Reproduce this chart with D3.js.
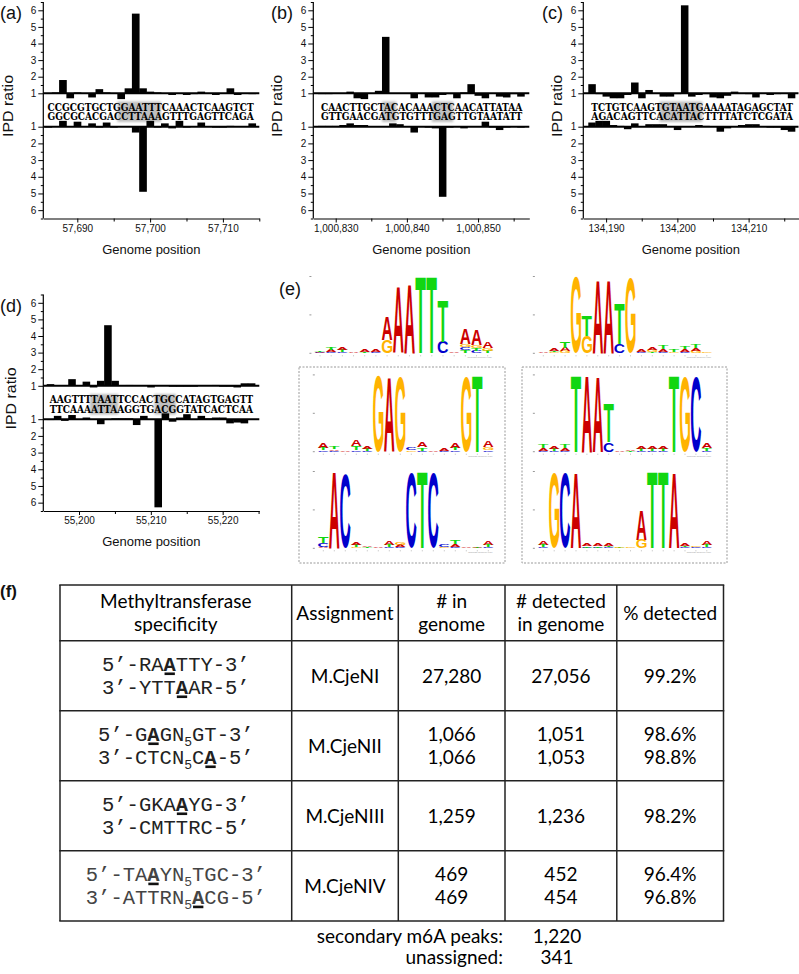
<!DOCTYPE html>
<html><head><meta charset="utf-8">
<script src="https://cdn.jsdelivr.net/npm/d3@7"></script>
<style>body{margin:0;background:#fff}svg{display:block}</style>
</head><body>
<svg id="chart" width="799" height="974"></svg>
<script>
// ---------------- DATA ----------------
const panelLetters = ["(a)","(b)","(c)","(d)","(e)","(f)"];
const yAxisTitle = "IPD ratio";
const xAxisTitle = "Genome position";

const aStart = 57686;
const aTicks = [57690, 57700, 57710];
const aTopSeq = "CCGCGTGCTGGAATTTCAAACTCAAGTCT";
const aBotSeq = "GGCGCACGACCTTAAAGTTTGAGTTCAGA";
const aTopIPD = [1.0,1.05,1.8,0.7,1.05,1.0,0.75,1.25,1.05,1.02,0.65,1.3,5.8,1.3,1.1,1.05,1.0,0.9,1.0,0.9,0.95,1.1,1.0,0.9,1.0,1.3,0.9,1.0,0.95];
const aBotIPD = [1.05,1.0,0.65,1.0,0.7,1.0,0.8,1.05,0.75,1.05,1.0,1.0,1.35,4.9,0.65,1.05,0.8,1.1,0.65,1.05,1.0,0.75,1.0,1.05,1.05,0.95,1.0,1.0,0.8];
const aMotif = [[10,15]];

const bStart = 1000828;
const bTicks = [1000830, 1000840, 1000850];
const bTopSeq = "CAACTTGCTACACAAACTCAACATTATAA";
const bBotSeq = "GTTGAACGATGTGTTTGAGTTGTAATATT";
const bTopIPD = [0.95,0.95,0.97,0.98,1.1,0.7,0.65,1.0,1.15,4.4,1.0,1.0,1.0,0.7,1.0,0.75,0.75,0.9,0.95,0.7,1.05,1.55,0.85,0.7,1.0,0.8,0.75,0.95,0.8];
const bBotIPD = [0.95,0.95,0.95,0.9,0.8,0.9,0.9,1.0,1.0,1.0,0.8,0.85,1.0,1.35,1.0,1.05,1.1,5.2,1.05,1.0,1.1,1.0,1.0,0.7,1.05,1.2,1.05,1.0,1.05];
const bMotif = [[9,10],[16,18]];

const cStart = 134188;
const cTicks = [134190, 134200, 134210];
const cTopSeq = "TCTGTCAAGTGTAATGAAAATAGAGCTAT";
const cBotSeq = "AGACAGTTCACATTACTTTTATCTCGATA";
const cTopIPD = [1.55,0.95,0.8,0.7,0.7,0.9,1.65,0.7,1.2,1.0,0.8,0.8,0.95,6.3,0.8,0.9,0.95,0.75,0.7,0.85,1.1,1.0,0.95,0.75,1.0,0.9,0.95,1.0,0.7];
const cBotIPD = [0.75,0.65,0.65,0.9,0.95,1.15,0.8,1.0,0.85,0.85,0.85,1.0,1.2,1.0,1.0,0.9,0.95,1.0,1.3,1.1,1.0,0.9,0.85,0.85,1.0,1.05,1.05,1.2,1.3];
const cMotif = [[10,15]];

const dStart = 55196;
const dTicks = [55200, 55210, 55220];
const dTopSeq = "AAGTTTTAATTCCACTGCCATAGTGAGTT";
const dBotSeq = "TTCAAAATTAAGGTGACGGTATCACTCAA";
const dTopIPD = [1.1,1.0,1.0,1.4,1.0,1.25,0.9,1.3,4.65,1.3,1.0,1.05,1.0,1.0,0.9,1.0,1.0,0.95,0.95,0.95,0.95,1.0,1.0,1.05,0.95,0.95,0.9,1.15,1.15];
const dBotIPD = [1.05,0.8,1.1,0.75,1.0,0.9,1.0,1.3,1.05,0.95,0.95,0.95,1.35,0.8,1.0,6.28,0.65,1.15,0.9,0.7,1.05,0.8,0.95,0.9,0.9,1.25,1.2,1.25,1.0];
const dMotif = [[6,9],[15,17]];

// sequence logos: columns of [base, bits] stacked bottom to top
const logoRAATTY = [
 [["C",0.02],["A",0.02],["T",0.03]], [["C",0.04],["A",0.05],["T",0.08]], [["C",0.03],["T",0.05],["A",0.06]], [["A",0.02]],
 [["T",0.03],["A",0.05]], [["C",0.03],["A",0.05]], [["G",0.35],["A",0.62]], [["A",1.72]],
 [["A",1.8]], [["T",2.0]], [["T",2.0]], [["C",0.3],["T",1.08]],
 [["A",0.02]], [["T",0.08],["C",0.08],["G",0.08],["A",0.4]], [["C",0.06],["T",0.08],["G",0.08],["A",0.4]], [["T",0.05],["G",0.08],["A",0.15]]];
const logoGKAAYG = [
 [["A",0.02]], [["G",0.03],["T",0.04],["A",0.06]], [["G",0.05],["A",0.1],["T",0.15]], [["G",1.98]],
 [["G",0.45],["T",0.55]], [["A",1.9]], [["A",1.9]], [["C",0.25],["T",1.05]],
 [["G",1.95]], [["C",0.03],["A",0.06]], [["T",0.03],["G",0.05],["A",0.08]], [["C",0.04],["A",0.06],["T",0.1]],
 [["G",0.03],["T",0.06]], [["C",0.04],["A",0.06],["T",0.08]], [["G",0.05],["A",0.08],["T",0.1]], [["G",0.03]]];
const logoGAGN5GT = [
 [["C",0.04],["T",0.06],["A",0.12]], [["C",0.03],["A",0.04],["T",0.06]], [["A",0.03]], [["C",0.04],["T",0.1],["A",0.15]],
 [["C",0.03],["T",0.05],["A",0.08]], [["G",2.0]], [["A",1.92]], [["G",1.95]],
 [["G",0.04],["C",0.08]], [["C",0.03],["T",0.08],["A",0.12]], [["A",0.03]], [["C",0.03],["A",0.05]],
 [["C",0.04],["T",0.05],["A",0.12]], [["G",1.95]], [["T",2.0]], [["C",0.04],["G",0.08],["A",0.18]]];
const logoACN5CTC = [
 [["A",0.03],["C",0.1],["T",0.15]], [["A",2.0]], [["C",1.92]], [["G",0.03],["T",0.06],["A",0.08]],
 [["T",0.03],["A",0.04]], [["A",0.02]], [["C",0.03],["T",0.06],["A",0.1]], [["C",0.03],["A",0.05],["G",0.05]],
 [["C",1.95]], [["T",2.0]], [["C",1.95]], [["G",0.04],["C",0.08]],
 [["C",0.03],["A",0.08],["T",0.1]], [["A",0.03]], [["T",0.02],["A",0.03]], [["C",0.03],["T",0.06],["A",0.1]]];
const logoTAAYN5TGC = [
 [["C",0.03],["A",0.06],["T",0.1]], [["C",0.02],["T",0.05],["A",0.06]], [["C",0.03],["A",0.06],["T",0.1]], [["T",2.0]],
 [["A",1.98]], [["A",1.95]], [["C",0.25],["T",1.0]], [["A",0.02]],
 [["T",0.02],["A",0.03]], [["C",0.03],["T",0.05],["A",0.08]], [["C",0.03],["T",0.05],["A",0.06]], [["C",0.03],["T",0.05],["A",0.06]],
 [["T",2.0]], [["G",1.95]], [["C",1.95]], [["C",0.03],["T",0.07],["A",0.12]]];
const logoGCAN5RTTA = [
 [["C",0.03],["T",0.05],["A",0.1]], [["G",1.95]], [["C",1.95]], [["A",1.95]],
 [["C",0.02],["T",0.03],["A",0.05]], [["C",0.02],["T",0.03],["A",0.05]], [["C",0.03],["T",0.04],["A",0.06]], [["T",0.02],["G",0.03]],
 [["G",0.02]], [["G",0.22],["A",0.78]], [["T",2.0]], [["T",2.0]],
 [["A",1.95]], [["C",0.03],["T",0.04],["A",0.07]], [["C",0.03],["G",0.04]], [["C",0.03],["T",0.06],["A",0.1]]];
const baseColors = {A:"#cc0000", C:"#0000cc", G:"#ffb300", T:"#11d611"};

// table (f)
const tableHeader = [["Methyltransferase","specificity"],["Assignment"],["# in","genome"],["# detected","in genome"],["% detected"]];
const specificity = [
 [[["5’-RA",""],["A","b"],["TTY-3’",""]], [["3’-YTT",""],["A","b"],["AR-5’",""]]],
 [[["5’-G",""],["A","b"],["GN",""],["5","s"],["GT-3’",""]], [["3’-CTCN",""],["5","s"],["C",""],["A","b"],["-5’",""]]],
 [[["5’-GKA",""],["A","b"],["YG-3’",""]], [["3’-CMTTRC-5’",""]]],
 [[["5’-TA",""],["A","b"],["YN",""],["5","s"],["TGC-3’",""]], [["3’-ATTRN",""],["5","s"],["A","b"],["CG-5’",""]]]
];
const assignment = ["M.CjeNI","M.CjeNII","M.CjeNIII","M.CjeNIV"];
const inGenome = [[27280],[1066,1066],[1259],[469,469]];
const detectedInGenome = [[27056],[1051,1053],[1236],[452,454]];
const pctDetected = [[99.2],[98.6,98.8],[98.2],[96.4,96.8]];
const summaryLabels = ["secondary m6A peaks:","unassigned:"];
const summaryValues = [1220, 341];

// ---------------- LAYOUT ----------------
const svg = d3.select("#chart");
svg.append("rect").attr("width",799).attr("height",974).attr("fill","#fff");
const defs = svg.append("defs");
defs.append("filter").attr("id","blur").attr("x","-20%").attr("y","-20%").attr("width","140%").attr("height","140%")
  .append("feGaussianBlur").attr("stdDeviation",1.3);

const SANS = "'Liberation Sans', Arial, sans-serif";

const panels = [
 {start:aStart, ticks:aTicks, topSeq:aTopSeq, botSeq:aBotSeq, top:aTopIPD, bot:aBotIPD, motif:aMotif,
  T:0, range:[43.3,259.3], domain:[57685.33,57715], ipdX:13, label:panelLetters[0], labelX:0},
 {start:bStart, ticks:bTicks, topSeq:bTopSeq, botSeq:bBotSeq, top:bTopIPD, bot:bBotIPD, motif:bMotif,
  T:0, range:[313.3,529.3], domain:[1000826.85,1000857.2], ipdX:282, label:panelLetters[1], labelX:271},
 {start:cStart, ticks:cTicks, topSeq:cTopSeq, botSeq:cBotSeq, top:cTopIPD, bot:cBotIPD, motif:cMotif,
  T:0, range:[583.3,798.5], domain:[134186.8,134217], ipdX:562, label:panelLetters[2], labelX:542},
 {start:dStart, ticks:dTicks, topSeq:dTopSeq, botSeq:dBotSeq, top:dTopIPD, bot:dBotIPD, motif:dMotif,
  T:292.5, range:[43.3,259.3], domain:[55195.03,55225.1], ipdX:16, label:panelLetters[3], labelX:0}
];

function drawPanel(p){
  const g = svg.append("g");
  const x = d3.scaleLinear().domain(p.domain).range(p.range);
  const yU = d3.scaleLinear().domain([1,6.5]).range([p.T+93.3, p.T+2]);
  const yL = d3.scaleLinear().domain([1,6.5]).range([p.T+126.7, p.T+218.5]);
  const bw = x(p.start+1)-x(p.start);

  // motif shading
  p.motif.forEach(([i0,i1])=>{
    g.append("rect").attr("x", x(p.start+i0-0.5)).attr("width", x(p.start+i1+0.5)-x(p.start+i0-0.5))
     .attr("y", p.T+101.5).attr("height", 20.5).attr("fill","#b4b4b4").attr("opacity",0.85).attr("filter","url(#blur)");
  });
  // sequences (natural width fitted, glyphs stretched vertically)
  [[p.topSeq, p.T+110.6],[p.botSeq, p.T+120.2]].forEach(([s,yb])=>{
    g.append("text").attr("transform",`translate(${x(p.start-0.5)+3},${yb}) scale(1,1.12)`)
     .attr("textLength", s.length*bw-5).attr("lengthAdjust","spacingAndGlyphs")
     .style("font-family","'DejaVu Serif', serif").style("font-weight","bold").style("font-size","9.3px")
     .attr("fill","#000").text(s);
  });
  // bars
  g.selectAll(null).data(p.top).join("rect")
   .attr("x",(d,i)=>x(p.start+i-0.5)).attr("width", bw+0.4)
   .attr("y", d=>Math.min(yU(d), yU(1))).attr("height", d=>Math.abs(yU(d)-yU(1)))
   .attr("fill","#000");
  g.selectAll(null).data(p.bot).join("rect")
   .attr("x",(d,i)=>x(p.start+i-0.5)).attr("width", bw+0.4)
   .attr("y", d=>Math.min(yL(d), yL(1))).attr("height", d=>Math.abs(yL(d)-yL(1)))
   .attr("fill","#000");
  // baselines at IPD ratio 1
  [yU(1), yL(1)].forEach(yy=>{
    g.append("line").attr("x1",p.range[0]).attr("x2",p.range[1]).attr("y1",yy).attr("y2",yy)
     .attr("stroke","#000").attr("stroke-width",2);
  });
  // y axis line
  g.append("line").attr("x1",p.range[0]).attr("x2",p.range[0]).attr("y1",yU(6.5)).attr("y2",yL(6.5))
   .attr("stroke","#000").attr("stroke-width",1.2);
  const major = [1,2,3,4,5,6], minor = [1.5,2.5,3.5,4.5,5.5,6.5];
  [yU,yL].forEach(sc=>{
    const ga = g.append("g").attr("transform",`translate(${p.range[0]},0)`)
      .call(d3.axisLeft(sc).tickValues(major).tickSize(5).tickPadding(2).tickFormat(d3.format("d")));
    ga.select(".domain").remove();
    const gm = g.append("g").attr("transform",`translate(${p.range[0]},0)`)
      .call(d3.axisLeft(sc).tickValues(minor).tickSize(2.5).tickFormat(""));
    gm.select(".domain").remove();
    [ga,gm].forEach(a=>{a.selectAll("text").style("font-family",SANS).style("font-size","10px").attr("fill","#111");
      a.selectAll("line").attr("stroke","#000");});
  });
  // x axis
  const gx = g.append("g").attr("transform",`translate(0,${p.T+218.5})`)
    .call(d3.axisBottom(x).tickValues(p.ticks).tickSize(4).tickSizeOuter(0).tickPadding(2).tickFormat(d3.format(",")));
  gx.select(".domain").attr("stroke","#000").attr("stroke-width",1.2);
  gx.selectAll("text").style("font-family",SANS).style("font-size","10px").attr("fill","#111");
  const minorX = p.ticks.map(t=>t-5).concat([p.ticks[2]+5]).filter(t=>t>=p.domain[0]&&t<=p.domain[1]);
  const gxm = g.append("g").attr("transform",`translate(0,${p.T+218.5})`)
    .call(d3.axisBottom(x).tickValues(minorX).tickSize(3).tickSizeOuter(0).tickFormat(""));
  gxm.select(".domain").remove();
  // titles
  g.append("text").attr("x",(p.range[0]+p.range[1])/2).attr("y",p.T+253.5).attr("text-anchor","middle")
   .style("font-family",SANS).style("font-size","13px").attr("fill","#111").text(xAxisTitle);
  g.append("text").attr("transform",`translate(${p.ipdX},${p.T+106}) rotate(-90)`).attr("text-anchor","middle")
   .attr("textLength",62).attr("lengthAdjust","spacingAndGlyphs")
   .style("font-family",SANS).style("font-size","14px").attr("fill","#111").text(yAxisTitle);
  g.append("text").attr("x",p.labelX).attr("y",p.T+19).style("font-family",SANS).style("font-size","18px")
   .attr("fill","#111").text(p.label);
}
panels.forEach(drawPanel);

// ---------- panel (e): sequence logos ----------
svg.append("text").attr("x",279).attr("y",295).style("font-family",SANS).style("font-size","18px").attr("fill","#111").text(panelLetters[4]);

const ctx = document.createElement("canvas").getContext("2d");
ctx.font = "bold 100px 'Liberation Sans'";
const gm = {};
["A","C","G","T"].forEach(L=>{const m=ctx.measureText(L);
  gm[L]={l:m.actualBoundingBoxLeft, r:m.actualBoundingBoxRight, a:m.actualBoundingBoxAscent, d:m.actualBoundingBoxDescent};});

const logos = [
 {cols:logoRAATTY, x0:320, dx:11.18, base:353.3},
 {cols:logoGKAAYG, x0:543.3, dx:10.9, base:353.3},
 {cols:logoGAGN5GT, x0:323.3, dx:11, base:451.7},
 {cols:logoACN5CTC, x0:323.3, dx:11, base:548.3},
 {cols:logoTAAYN5TGC, x0:543.3, dx:10.9, base:451.7},
 {cols:logoGCAN5RTTA, x0:543.3, dx:10.9, base:548.3}
];
const bitPx = 38.4;
logos.forEach(lg=>{
  const g = svg.append("g");
  const xs = d3.scaleLinear().domain([0,1]).range([lg.x0, lg.x0+lg.dx]);
  const ys = d3.scaleLinear().domain([0,2]).range([lg.base, lg.base-2*bitPx]);
  [0,1,2].forEach(b=>{
    g.append("rect").attr("x",xs(-0.5)-5).attr("y",ys(b)-0.5).attr("width",2).attr("height",1).attr("fill","#999");
  });
  lg.cols.forEach((col,ci)=>{
    g.append("rect").attr("x",xs(ci)-0.5).attr("y",lg.base+2).attr("width",1).attr("height",1).attr("fill","#bbb");
    let cum = 0;
    const w = lg.dx*0.94;
    col.forEach(([L,b])=>{
      const yBot = ys(cum), yTop = ys(cum+b);
      cum += b;
      const h = yBot-yTop;
      if(h < 0.35) return;
      const m = gm[L];
      const sx = w/(m.l+m.r), sy = h/(m.a+m.d);
      const xl = xs(ci)-w/2;
      g.append("text").attr("transform",`translate(${xl+m.l*sx},${yTop+m.a*sy}) scale(${sx},${sy})`)
       .style("font-family","'Liberation Sans'").style("font-weight","bold").style("font-size","100px")
       .attr("fill",baseColors[L]).text(L);
    });
  });
  g.append("text").attr("x",xs(lg.cols.length-1)+4).attr("y",lg.base+5).attr("text-anchor","end")
   .style("font-family",SANS).style("font-size","2.5px").attr("fill","#999").text("weblogo.berkeley.edu");
});
[[299,367,206,196],[522,367,205,196]].forEach(([bx,by,bw2,bh])=>{
  svg.append("rect").attr("x",bx).attr("y",by).attr("width",bw2).attr("height",bh)
   .attr("fill","none").attr("stroke","#999").attr("stroke-width",1).attr("stroke-dasharray","2,1.5");
});

// ---------- panel (f): table ----------
svg.append("text").attr("x",0).attr("y",597).style("font-family",SANS).style("font-weight","bold").style("font-size","17px")
 .attr("fill","#111").text(panelLetters[5]);
const cols = [60, 291.7, 398.3, 505, 616.8, 723.5];
const rows = [585, 640.7, 710.7, 780.7, 850.7, 921];
const TF = "Lato, 'Open Sans', sans-serif", TS = 19;
const tg = svg.append("g");
cols.forEach(cx=>tg.append("line").attr("x1",cx).attr("x2",cx).attr("y1",rows[0]).attr("y2",rows[5]).attr("stroke","#222").attr("stroke-width",1.5));
rows.forEach(ry=>tg.append("line").attr("x1",cols[0]-0.75).attr("x2",cols[5]+0.75).attr("y1",ry).attr("y2",ry).attr("stroke","#222").attr("stroke-width",1.5));
const colC = i=>(cols[i]+cols[i+1])/2;
const rowC = i=>(rows[i]+rows[i+1])/2;
function cellLines(ci, ri, lines){
  const n = lines.length, sp = 23;
  lines.forEach((t,k)=>{
    const yc = rowC(ri) + (k-(n-1)/2)*sp;
    tg.append("text").attr("x",colC(ci)).attr("y",yc+0.36*TS).attr("text-anchor","middle")
      .style("font-family",TF).style("font-size",TS+"px").attr("fill","#000").text(t);
  });
}
tableHeader.forEach((h,ci)=>cellLines(ci,0,h));
const fmtN = d3.format(","), fmtP = d=>d3.format(".1f")(d)+"%";
assignment.forEach((a,ri)=>{
  cellLines(1,ri+1,[a]);
  cellLines(2,ri+1,inGenome[ri].map(fmtN));
  cellLines(3,ri+1,detectedInGenome[ri].map(fmtN));
  cellLines(4,ri+1,pctDetected[ri].map(fmtP));
});
const MONO = "'Liberation Mono', 'Courier New', monospace", MS = 20.5;
specificity.forEach((lines,ri)=>{
  lines.forEach((segs,k)=>{
    const yb = rowC(ri+1) + (k-0.5)*23 + 0.33*MS;
    const t = tg.append("text").attr("x",colC(0)).attr("y",yb).attr("text-anchor","middle")
      .style("font-family",MONO).style("font-size",MS+"px").attr("fill", ri===3?"#444":"#222");
    let shifted = false, idx = 0; const boldIdx = [];
    segs.forEach(([s,st])=>{
      const ts = t.append("tspan").text(s);
      if(st==="s"){ ts.style("font-size","13px").attr("dy",5); shifted = true; }
      else if(shifted){ ts.attr("dy",-5); shifted = false; }
      if(st==="b"){ ts.style("font-weight","bold"); boldIdx.push(idx); }
      idx += s.length;
    });
    boldIdx.forEach(bi=>{
      const e = t.node().getExtentOfChar(bi);
      tg.append("rect").attr("x",e.x+1).attr("width",e.width-2).attr("y",yb+1.5).attr("height",2.6).attr("fill","#111");
    });
  });
});
summaryLabels.forEach((lab,i)=>{
  const yb = 943 + i*20.5;
  tg.append("text").attr("x",503).attr("y",yb).attr("text-anchor","end").style("font-family",TF).style("font-size",TS+"px").attr("fill","#000").text(lab);
  tg.append("text").attr("x",557).attr("y",yb).attr("text-anchor","middle").style("font-family",TF).style("font-size",TS+"px").attr("fill","#000").text(fmtN(summaryValues[i]));
});
</script>
</body></html>
